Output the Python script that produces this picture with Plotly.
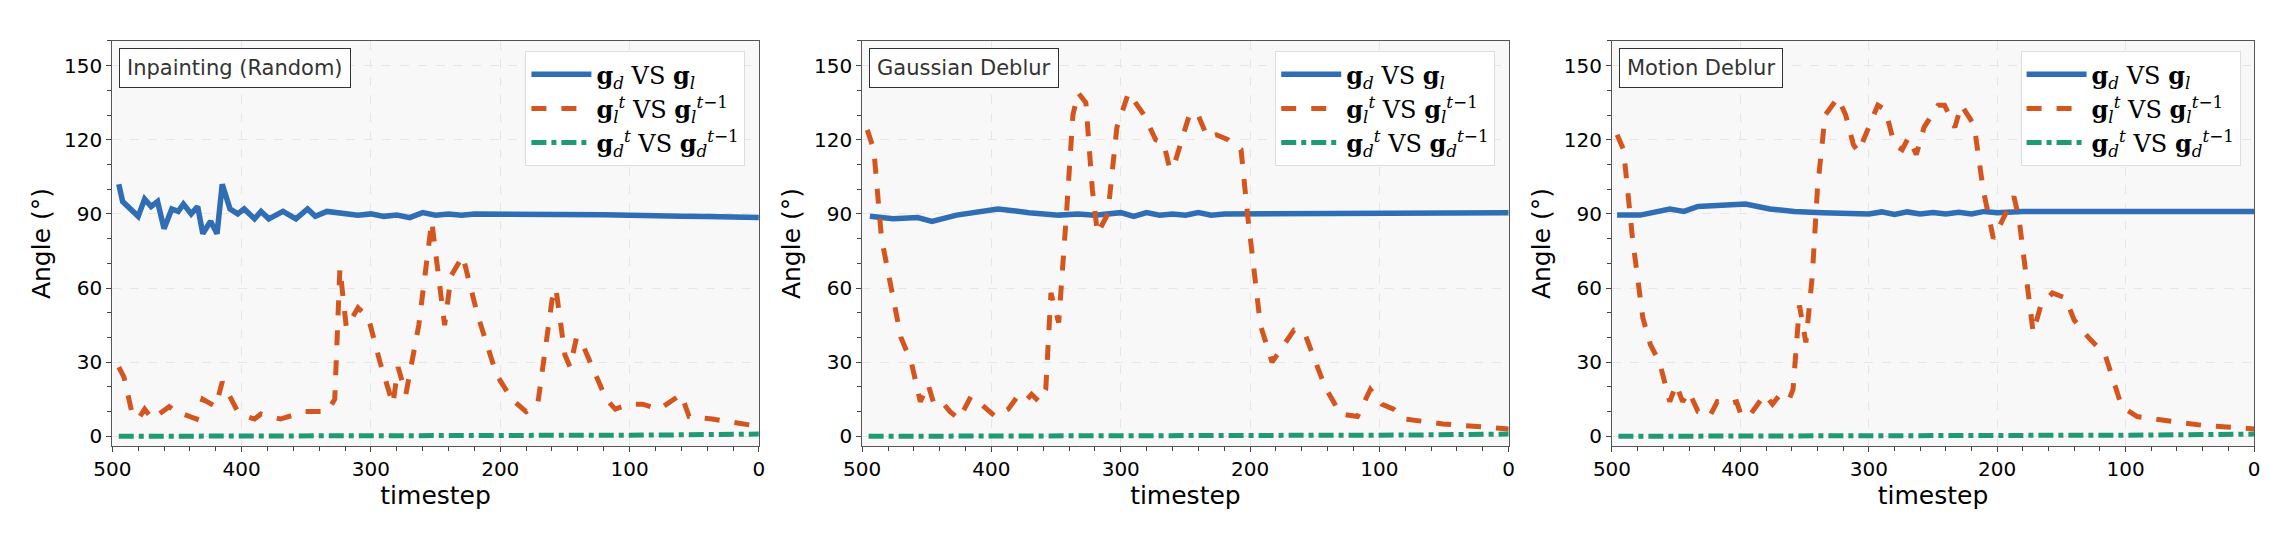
import plotly.graph_objects as go
from plotly.subplots import make_subplots

# Inpainting (Random)
inp_blue_t = [495, 492, 480, 475, 470, 465, 460, 454, 449, 445, 439, 434, 430, 424, 419, 415, 409, 403, 398, 390,
              385, 379, 368, 358, 349, 343, 334, 321, 310, 300, 290, 280, 270, 260, 250, 240, 230, 220, 210, 193,
              180, 160, 140, 120, 100, 80, 60, 40, 20, 0]
inp_blue_v = [102, 95, 89, 96, 93, 95, 84, 92, 91, 94, 90, 93, 82, 87, 82, 102, 92, 90, 92, 88,
              91, 88, 91, 88, 92, 89, 91, 90, 89.5, 90, 89, 89.5, 88.5, 90.5, 89.5, 90, 89.5, 90, 90, 89.5,
              90, 89.8, 89.7, 89.6, 89.4, 89, 89, 88.9, 88.7, 88.5]
inp_orange_t = [495, 491, 485, 480, 475, 469, 456, 449, 445, 435, 430, 420, 415, 403, 396, 390, 385, 370, 351, 342,
                334, 328, 324, 319, 310, 302, 293, 283, 279, 273, 263, 253, 243, 238, 229, 218, 203, 191, 180, 171,
                160, 157, 150, 146, 141, 137, 118, 111, 101, 90, 77, 60, 54, 36, 13, 0]
inp_orange_v = [28, 24, 10, 7, 11, 7, 12, 9, 9, 7, 15, 12, 22, 10, 8, 7, 9, 7, 10, 10,
                10, 15, 68, 44, 52, 48, 30, 13, 28, 17, 45, 87, 45, 65, 73, 50, 25, 15, 10, 13,
                55, 60, 33, 28, 40, 38, 15, 11, 13, 13, 11, 17, 8, 7, 5, 4]

# Gaussian Deblur
gau_blue_t = [494, 476, 457, 446, 427, 408, 395, 371, 348, 333, 320, 300, 290, 280, 270, 260, 250, 240, 230, 220,
              200, 180, 150, 100, 50, 0]
gau_blue_v = [89, 88, 88.5, 87, 89.5, 91, 92, 90.5, 89.5, 90, 89.5, 90.5, 89, 90.5, 89.5, 90, 89.5, 90.5, 89.5, 90,
              90, 90.2, 90.3, 90.4, 90.5, 90.5]
gau_orange_t = [496, 491, 485, 470, 462, 455, 449, 445, 440, 432, 425, 416, 408, 397, 387, 380, 374, 369, 363, 358,
                354, 348, 342, 337, 333, 327, 322, 318, 310, 303, 294, 282, 273, 267, 262, 258, 247, 241, 233, 226,
                217, 207, 202, 192, 183, 173, 166, 158, 142, 130, 117, 107, 98, 89, 80, 51, 29, 7, 0]
gau_orange_v = [124, 116, 80, 40, 30, 14, 21, 14, 15, 10, 7, 16, 13, 8, 11, 16, 14, 17, 14, 19,
                58, 46, 90, 130, 139, 135, 100, 82, 90, 125, 139, 130, 120, 119, 108, 111, 130, 131, 121, 122,
                120, 116, 90, 45, 30, 38, 43, 42, 20, 9, 8, 19, 13, 11, 7, 5, 4, 3.5, 3]

# Motion Deblur
mot_blue_t = [496, 478, 455, 444, 433, 414, 396, 377, 358, 336, 320, 300, 290, 280, 270, 260, 250, 240, 230, 220,
              210, 200, 180, 157, 100, 50, 0]
mot_blue_v = [89.5, 89.5, 92, 91, 93, 93.5, 94, 92, 91, 90.5, 90.5, 90, 90.8, 89.8, 90.8, 90, 90.6, 90, 90.7, 90,
              91, 90.5, 91, 91, 91, 91, 91]
mot_orange_t = [496, 491, 484, 476, 470, 463, 455, 450, 445, 440, 433, 424, 418, 410, 403, 399, 392, 381, 375, 369,
                362, 359, 354, 349, 344, 340, 334, 324, 318, 312, 308, 300, 293, 287, 280, 274, 269, 263, 257, 246,
                241, 233, 228, 218, 211, 203, 198, 187, 183, 172, 166, 157, 147, 140, 129, 116, 103, 91, 78, 63,
                41, 0]
mot_orange_v = [122, 116, 80, 48, 37, 30, 14, 21, 14, 18, 10, 8, 14, 13, 14, 8, 9, 17, 13, 17,
                15, 19, 53, 38, 65, 100, 130, 137, 130, 118, 115, 125, 134, 132, 118, 116, 121, 114, 125, 134,
                134, 125, 134, 126, 100, 80, 85, 97, 88, 42, 53, 58, 56, 47, 40, 33, 12, 8, 7, 6,
                4.5, 3]

green_t = [495, 400, 300, 200, 120, 80, 40, 0]
green_v = [0, 0, 0, 0.1, 0.3, 0.5, 0.7, 0.9]

titles = ["Inpainting (Random)", "Gaussian Deblur", "Motion Deblur"]
blue_data = [(inp_blue_t, inp_blue_v), (gau_blue_t, gau_blue_v), (mot_blue_t, mot_blue_v)]
orange_data = [(inp_orange_t, inp_orange_v), (gau_orange_t, gau_orange_v), (mot_orange_t, mot_orange_v)]

names = ["<b>g</b><sub><i>d</i></sub> VS <b>g</b><sub><i>l</i></sub>",
         "<b>g</b><sub><i>l</i></sub><sup><i>t</i></sup> VS <b>g</b><sub><i>l</i></sub><sup><i>t</i>−1</sup>",
         "<b>g</b><sub><i>d</i></sub><sup><i>t</i></sup> VS <b>g</b><sub><i>d</i></sub><sup><i>t</i>−1</sup>"]

fig = make_subplots(rows=1, cols=3)
domains = [(0.038, 0.326), (0.372, 0.660), (0.706, 0.992)]
legnames = ["legend", "legend2", "legend3"]

for i in range(3):
    bt, bv = blue_data[i]
    ot, ov = orange_data[i]
    fig.add_trace(go.Scatter(x=bt, y=bv, mode="lines", name=names[0], legend=legnames[i],
                             line=dict(color="#2f6db5", width=5.5)), row=1, col=i + 1)
    fig.add_trace(go.Scatter(x=ot, y=ov, mode="lines", name=names[1], legend=legnames[i],
                             line=dict(color="#d4561e", width=5, dash="dash")), row=1, col=i + 1)
    fig.add_trace(go.Scatter(x=green_t, y=green_v, mode="lines", name=names[2], legend=legnames[i],
                             line=dict(color="#1f9a74", width=5, dash="dashdot")), row=1, col=i + 1)

    ax = "" if i == 0 else str(i + 1)
    fig.update_layout({
        "xaxis" + ax: dict(domain=domains[i], range=[500, 0], tickvals=[500, 400, 300, 200, 100, 0],
                           title=dict(text="timestep", font=dict(size=25), standoff=4),
                           showline=True, linecolor="#555", mirror=True, ticks="outside",
                           minor=dict(ticks="outside", dtick=20, ticklen=4),
                           gridcolor="#e6e6e6", griddash="dash", zeroline=False,
                           tickfont=dict(size=20)),
        "yaxis" + ax: dict(domain=[0.187, 0.939], range=[-4, 160], tickvals=[0, 30, 60, 90, 120, 150],
                           title=dict(text="Angle (°)", font=dict(size=25), standoff=6),
                           showline=True, linecolor="#555", mirror=True, ticks="outside",
                           minor=dict(ticks="outside", dtick=10, ticklen=4),
                           gridcolor="#e6e6e6", griddash="dash", zeroline=False,
                           tickfont=dict(size=20)),
        legnames[i]: dict(x=domains[i][1] - 0.006, y=0.92, xanchor="right", yanchor="top",
                          bgcolor="white", bordercolor="#dddddd", borderwidth=1,
                          font=dict(size=24, family="DejaVu Serif"), itemwidth=60, tracegroupgap=14),
    })
    fig.add_annotation(x=domains[i][0] + 0.003, y=0.925, xref="paper", yref="paper",
                       xanchor="left", yanchor="top", text=titles[i], showarrow=False,
                       font=dict(size=21, color="#333"), bgcolor="white",
                       bordercolor="#333", borderwidth=1, borderpad=7)

fig.update_layout(
    width=2270, height=541,
    margin=dict(l=0, r=0, t=0, b=0),
    plot_bgcolor="#f8f8f8", paper_bgcolor="white",
    font=dict(family="DejaVu Sans", color="black"),
)

fig.write_html("out.html")
